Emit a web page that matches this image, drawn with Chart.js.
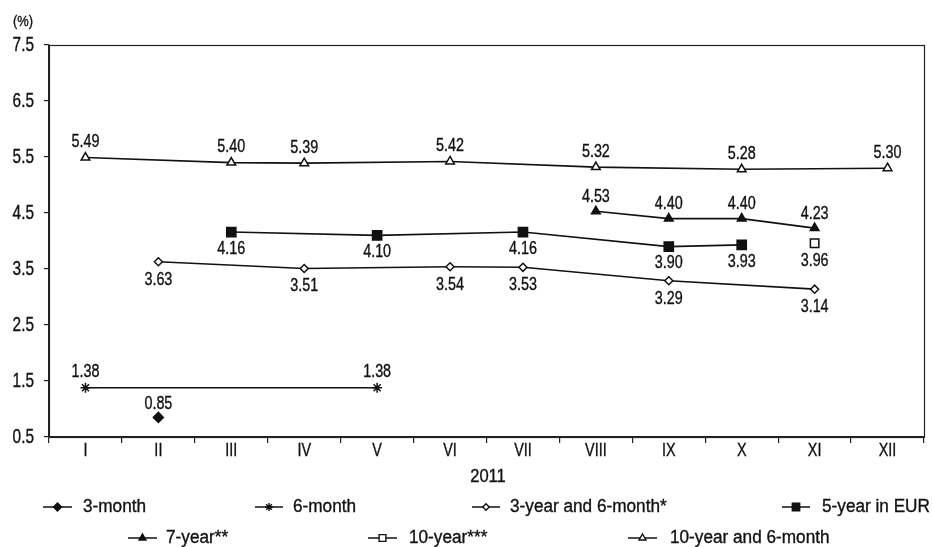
<!DOCTYPE html>
<html>
<head>
<meta charset="utf-8">
<script src="https://cdn.jsdelivr.net/npm/chart.js@4"></script>
<style>
  html, body { margin: 0; padding: 0; background: #fff; }
  #wrap { width: 933px; height: 547px; position: relative; }
</style>
</head>
<body>
<div id="wrap"><canvas id="c" width="933" height="547"></canvas></div>
<script>
// Months of 2011
const categories = ['I', 'II', 'III', 'IV', 'V', 'VI', 'VII', 'VIII', 'IX', 'X', 'XI', 'XII'];
const yTicks = [0.5, 1.5, 2.5, 3.5, 4.5, 5.5, 6.5, 7.5];

// Yields by maturity (%), null where no auction took place
const threeMonth      = [null, 0.85, null, null, null, null, null, null, null, null, null, null];
const sixMonth        = [1.38, null, null, null, 1.38, null, null, null, null, null, null, null];
const threeYearSixMon = [null, 3.63, null, 3.51, null, 3.54, 3.53, null, 3.29, null, 3.14, null];
const fiveYearEur     = [null, null, 4.16, null, 4.10, null, 4.16, null, 3.90, 3.93, null, null];
const sevenYear       = [null, null, null, null, null, null, null, 4.53, 4.40, 4.40, 4.23, null];
const tenYear         = [null, null, null, null, null, null, null, null, null, null, 3.96, null];
const tenYearSixMon   = [5.49, null, 5.40, 5.39, null, 5.42, null, 5.32, null, 5.28, null, 5.30];

const FONT = "'Liberation Sans', Arial, sans-serif";

// condensed text: horizontal squeeze factor sx, with a hairline stroke for weight
function drawText(ctx, text, x, y, size, sx, align) {
  ctx.save();
  ctx.font = size + 'px ' + FONT;
  ctx.textBaseline = 'middle';
  ctx.textAlign = align;
  ctx.translate(x, y);
  ctx.scale(sx, 1);
  ctx.fillStyle = '#111';
  ctx.strokeStyle = '#111';
  ctx.lineWidth = 0.35;
  ctx.fillText(text, 0, 0);
  ctx.strokeText(text, 0, 0);
  ctx.restore();
}

function series(label, data, style, radius, fill, labelDy) {
  return {
    label, data,
    borderColor: '#111',
    borderWidth: 1.6,
    pointStyle: style,
    pointRadius: radius,
    pointHoverRadius: radius,
    pointBackgroundColor: fill,
    pointBorderColor: '#111',
    pointBorderWidth: 1.5,
    spanGaps: true,
    tension: 0,
    labelDy
  };
}

const datasets = [
  series('3-month', threeMonth, 'rectRot', 5, '#111', -13),
  series('6-month', sixMonth, 'star', 5, '#111', -16),
  series('3-year and 6-month*', threeYearSixMon, 'rectRot', 4, '#fff', 18),
  series('5-year in EUR', fiveYearEur, 'rect', 6.5, '#111', 17),
  series('7-year**', sevenYear, 'triangle', 5, '#111', -14),
  series('10-year***', tenYear, 'rect', 6, '#fff', 18),
  series('10-year and 6-month', tenYearSixMon, 'triangle', 5, '#fff', -15)
];

// Legend placement: [row, line start x, line end x, text start x]
const legendSlots = [
  [0, 43, 72, 83], [0, 255, 283, 293], [0, 472, 500, 510], [0, 782, 810, 822],
  [1, 128, 157, 166], [1, 368, 397, 409], [1, 628, 657, 670]
];
const legendRowsY = [507, 538];

const decorPlugin = {
  id: 'decor',
  afterDatasetsDraw(chart) {
    const ctx = chart.ctx;
    const a = chart.chartArea;
    const xs = chart.scales.x, ys = chart.scales.y;
    ctx.save();
    // frame around the plotting area
    ctx.strokeStyle = '#222';
    ctx.lineWidth = 1.2;
    ctx.strokeRect(a.left + 0.5, a.top + 0.5, a.right - a.left, a.bottom - a.top);
    ctx.restore();

    // axis labels
    yTicks.forEach(v => drawText(ctx, v.toFixed(1), 34, ys.getPixelForValue(v), 20, 0.77, 'right'));
    categories.forEach((c, i) => drawText(ctx, c, xs.getPixelForValue(i), 451, 18, 0.8, 'center'));

    // value labels
    chart.data.datasets.forEach((ds, i) => {
      const meta = chart.getDatasetMeta(i);
      meta.data.forEach((pt, j) => {
        const v = ds.data[j];
        if (v === null || v === undefined) return;
        drawText(ctx, v.toFixed(2), pt.x, pt.y + ds.labelDy, 17.5, 0.82, 'center');
      });
    });

    // unit label and axis title
    drawText(ctx, '(%)', 13, 22, 14, 0.92, 'left');
    drawText(ctx, '2011', 488, 477, 18, 0.92, 'center');

    // legend
    chart.data.datasets.forEach((ds, i) => {
      const [row, lx, le, tx] = legendSlots[i];
      const y = legendRowsY[row];
      ctx.save();
      ctx.strokeStyle = '#111';
      ctx.lineWidth = 1.5;
      ctx.beginPath();
      ctx.moveTo(lx, y);
      ctx.lineTo(le, y);
      ctx.stroke();
      ctx.fillStyle = ds.pointBackgroundColor;
      ctx.strokeStyle = '#111';
      ctx.lineWidth = 1.4;
      Chart.helpers.drawPoint(ctx, {
        pointStyle: ds.pointStyle,
        radius: ds.pointRadius * 0.8,
        borderWidth: 1.4,
        rotation: 0
      }, (lx + le) / 2, y);
      ctx.restore();
      drawText(ctx, ds.label, tx, y, 18, 0.955, 'left');
    });
  }
};

new Chart(document.getElementById('c'), {
  type: 'line',
  data: { labels: categories, datasets },
  options: {
    responsive: false,
    animation: false,
    events: [],
    layout: { padding: { top: 45, right: 9, bottom: 0, left: 0 } },
    plugins: { legend: { display: false }, tooltip: { enabled: false } },
    scales: {
      x: {
        type: 'category',
        offset: true,
        afterFit(scale) { scale.height = 110; },
        grid: { offset: true, drawOnChartArea: false, drawTicks: true, tickLength: 6, color: '#222', lineWidth: 1.2 },
        border: { color: '#222', width: 1.2 },
        ticks: { display: false }
      },
      y: {
        min: 0.5, max: 7.5,
        afterFit(scale) { scale.width = 49; },
        afterBuildTicks(scale) { scale.ticks = yTicks.map(v => ({ value: v })); },
        grid: { drawOnChartArea: false, drawTicks: true, tickLength: 5, color: '#222', lineWidth: 1.2 },
        border: { color: '#222', width: 1.2 },
        ticks: { display: false }
      }
    }
  },
  plugins: [decorPlugin]
});
</script>
</body>
</html>
